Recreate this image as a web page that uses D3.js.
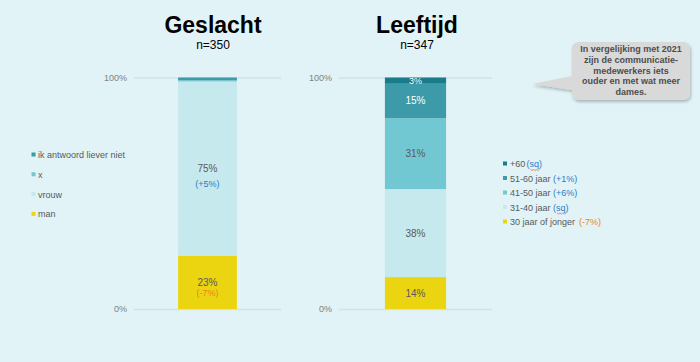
<!DOCTYPE html>
<html>
<head>
<meta charset="utf-8">
<script src="https://cdn.jsdelivr.net/npm/d3@7"></script>
<style>
  body { margin: 0; background: #e1f3f6; }
  svg { display: block; font-family: "Liberation Sans", Arial, sans-serif; }
</style>
</head>
<body>
<div id="chart"></div>
<script>
(function () {

  var w = 700, h = 362;

  // Geslacht
  var genderCats = ["man", "vrouw", "x", "ik antwoord liever niet"];
  var genderVals = [23.1, 75.2, 0.5, 1.2];
  var genderLabels = ["23%", "75%", "", ""];
  var genderDiff = ["(-7%)", "(+5%)", "", ""];
  var genderColors = ["#ebd511", "#c6e9ee", "#72c8d2", "#3d9aa8"];

  // Leeftijd
  var ageCats = ["30 jaar of jonger", "31-40 jaar", "41-50 jaar", "51-60 jaar", "+60"];
  var ageVals = [13.8, 38.0, 30.6, 14.9, 2.7];
  var ageLabels = ["14%", "38%", "31%", "15%", "3%"];
  var ageDiff = ["(-7%)", "(sq)", "(+6%)", "(+1%)", "(sq)"];
  var ageColors = ["#ebd511", "#c6e9ee", "#72c8d2", "#3d9aa8", "#1a7b8a"];

  var yTicks = [0, 100];
  var calloutLines = ["In vergelijking met 2021", "zijn de communicatie-", "medewerkers iets", "ouder en met wat meer", "dames."];

  var blue = "#2e7bc4", orange = "#f0801e", grey = "#595959";

  var svg = d3.select("#chart").append("svg")
    .attr("width", w)
    .attr("height", h);

  var defs = svg.append("defs");
  defs.append("filter")
    .attr("id", "shadow")
    .attr("x", "-20%").attr("y", "-20%").attr("width", "150%").attr("height", "160%")
    .append("feDropShadow")
    .attr("dx", 1).attr("dy", 2).attr("stdDeviation", 1.5)
    .attr("flood-color", "#000").attr("flood-opacity", 0.25);

  var yScale = d3.scaleLinear().domain([0, 100]).range([309, 77.5]);

  function stack(vals) {
    var acc = 0;
    return vals.map(function (v, i) {
      var d = { i: i, y0: acc, y1: acc + v };
      acc += v;
      return d;
    });
  }

  function drawChart(opt) {
    var x = d3.scaleBand().domain([opt.title]).range([opt.x0, opt.x1])
      .paddingInner(0).paddingOuter(0.75);

    var axis = d3.axisLeft(yScale)
      .tickValues(yTicks)
      .tickFormat(function (d) { return d + "%"; })
      .tickSize(0)
      .tickPadding(7);

    var g = svg.append("g").attr("transform", "translate(" + opt.x0 + ",0)").call(axis);
    g.select(".domain").remove();
    g.selectAll(".tick line")
      .attr("x1", 0).attr("x2", opt.x1 - opt.x0)
      .attr("stroke", "#d4e1e2").attr("stroke-width", 1.5);
    g.selectAll(".tick text").attr("fill", "#808080").style("font-size", "9px")
      .attr("font-family", "Liberation Sans, Arial, sans-serif");

    var segs = stack(opt.vals);
    var bx = x(opt.title), bw = x.bandwidth();

    svg.selectAll(null)
      .data(segs)
      .enter()
      .append("rect")
      .attr("x", bx)
      .attr("width", bw)
      .attr("y", function (d) { return yScale(d.y1); })
      .attr("height", function (d) { return yScale(d.y0) - yScale(d.y1); })
      .attr("fill", function (d) { return opt.colors[d.i]; });

    segs.forEach(function (d) {
      if (!opt.labels[d.i]) return;
      var cy = (yScale(d.y0) + yScale(d.y1)) / 2;
      var dark = d.i >= 3;
      var hasDiff = opt.inBarDiff && opt.diff[d.i];
      svg.append("text")
        .attr("x", bx + bw / 2)
        .attr("y", cy + 3.5)
        .attr("text-anchor", "middle")
        .style("font-size", d.i == 4 ? "9px" : "10px")
        .attr("fill", dark ? "#ffffff" : grey)
        .text(opt.labels[d.i]);
      if (hasDiff) {
        svg.append("text")
          .attr("x", bx + bw / 2)
          .attr("y", cy + 3.5 + (d.i == 0 ? 10 : 15))
          .attr("text-anchor", "middle")
          .style("font-size", "9px")
          .attr("fill", opt.diff[d.i].indexOf("-") >= 0 ? orange : blue)
          .text(opt.diff[d.i]);
      }
    });

    svg.append("text")
      .attr("x", opt.tx)
      .attr("y", 33)
      .attr("text-anchor", "middle")
      .style("font-size", "23px")
      .style("font-weight", "bold")
      .attr("fill", "#000")
      .text(opt.title);

    svg.append("text")
      .attr("x", opt.tx)
      .attr("y", 49)
      .attr("text-anchor", "middle")
      .style("font-size", "12px")
      .attr("fill", "#000")
      .text(opt.n);
  }

  drawChart({ title: "Geslacht", n: "n=350", x0: 134, x1: 281, tx: 213,
    vals: genderVals, labels: genderLabels, diff: genderDiff, colors: genderColors, inBarDiff: true });
  drawChart({ title: "Leeftijd", n: "n=347", x0: 339, x1: 492, tx: 417,
    vals: ageVals, labels: ageLabels, diff: ageDiff, colors: ageColors, inBarDiff: false });

  // legend Geslacht (top item first)
  var legL = svg.append("g");
  var gItems = genderCats.map(function (c, i) { return i; }).reverse();
  gItems.forEach(function (idx, k) {
    var y = 155 + k * 19.8;
    legL.append("rect").attr("x", 31.5).attr("y", y - 2.5).attr("width", 4).attr("height", 4)
      .attr("fill", genderColors[idx]);
    legL.append("text").attr("x", 38).attr("y", y + 3).style("font-size", "9px")
      .attr("fill", grey).text(genderCats[idx]);
  });

  // legend Leeftijd
  var legR = svg.append("g");
  var aItems = ageCats.map(function (c, i) { return i; }).reverse();
  var diffX = [526.5, 553, 553, 553, 579];
  aItems.forEach(function (idx, k) {
    var y = 164 + k * 14.5;
    legR.append("rect").attr("x", 503).attr("y", y - 2.5).attr("width", 4).attr("height", 4)
      .attr("fill", ageColors[idx]);
    legR.append("text").attr("x", 510).attr("y", y + 3).style("font-size", "9px")
      .attr("fill", grey).text(ageCats[idx]);
    var t = ageDiff[idx];
    legR.append("text").attr("x", diffX[k]).attr("y", y + 3).style("font-size", "9px")
      .attr("fill", t.indexOf("-") >= 0 ? orange : blue).text(t);
    if (t == "(sq)") {
      var p = d3.path(), sx = diffX[k] + 4, sy = y + 5.5;
      p.moveTo(sx, sy);
      for (var j = 0; j < 6; j++) p.lineTo(sx + j * 1.5 + 1.5, sy + (j % 2 ? 0 : 1));
      legR.append("path").attr("d", p.toString()).attr("fill", "none")
        .attr("stroke", "#e0403a").attr("stroke-width", 0.6);
    }
  });

  // callout
  var c = svg.append("g").attr("filter", "url(#shadow)");
  var bxL = 572, bxR = 690, byT = 42, byB = 100, r = 7;
  var path = d3.path();
  path.moveTo(bxL + r, byT);
  path.lineTo(bxR - r, byT);
  path.quadraticCurveTo(bxR, byT, bxR, byT + r);
  path.lineTo(bxR, byB - r);
  path.quadraticCurveTo(bxR, byB, bxR - r, byB);
  path.lineTo(bxL + r, byB);
  path.quadraticCurveTo(bxL, byB, bxL, byB - r);
  path.lineTo(bxL, 90);
  path.lineTo(532, 84);
  path.lineTo(bxL, 76);
  path.lineTo(bxL, byT + r);
  path.quadraticCurveTo(bxL, byT, bxL + r, byT);
  path.closePath();
  c.append("path").attr("d", path.toString()).attr("fill", "#d9d9d9");

  svg.append("g").selectAll("text")
    .data(calloutLines)
    .enter()
    .append("text")
    .attr("x", 631)
    .attr("y", function (d, i) { return 52 + i * 10.8; })
    .attr("text-anchor", "middle")
    .style("font-size", "9px")
    .style("font-weight", "bold")
    .attr("fill", "#4d4d4d")
    .text(function (d) { return d; });

})();
</script>
</body>
</html>
